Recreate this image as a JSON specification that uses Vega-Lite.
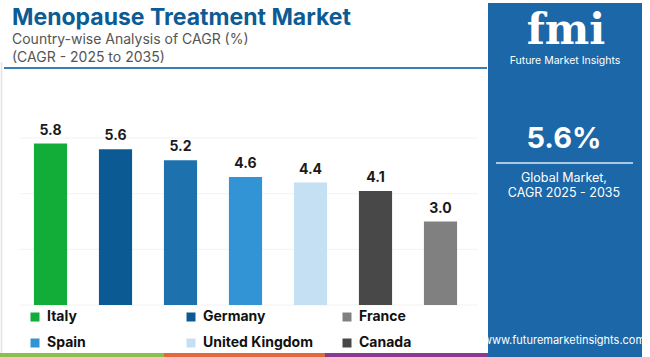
{
  "$schema": "https://vega.github.io/schema/vega-lite/v6.json",
  "width": 650,
  "height": 357,
  "autosize": {"type": "none"},
  "padding": 0,
  "background": "white",
  "config": {"view": {"stroke": null}, "font": "Inter"},
  "datasets": {
    "bars": [
      {"country": "Italy", "cagr": 5.8},
      {"country": "Germany", "cagr": 5.6},
      {"country": "United States", "cagr": 5.2},
      {"country": "Spain", "cagr": 4.6},
      {"country": "United Kingdom", "cagr": 4.4},
      {"country": "Canada", "cagr": 4.1},
      {"country": "France", "cagr": 3.0}
    ],
    "grid": [{"g": 0}, {"g": 2}, {"g": 4}, {"g": 6}],
    "one": [{"k": 1}]
  },
  "layer": [
    {
      "data": {"name": "one"},
      "mark": {"type": "rect", "fill": "#1b67a8"},
      "encoding": {"x": {"value": 488}, "x2": {"value": 642}, "y": {"value": 3}, "y2": {"value": 357}}
    },
    {
      "data": {"name": "one"},
      "mark": {"type": "rule", "stroke": "#e3e3e3", "strokeWidth": 1.5},
      "encoding": {"x": {"value": 1.5}, "y": {"value": 62}, "y2": {"value": 357}}
    },
    {
      "data": {"name": "one"},
      "mark": {"type": "rule", "stroke": "#3a7fb2", "strokeWidth": 2},
      "encoding": {"x": {"value": 4}, "x2": {"value": 487}, "y": {"value": 68}}
    },
    {
      "data": {"name": "one"},
      "mark": {"type": "rect", "fill": "#8cc04a"},
      "encoding": {"x": {"value": 0}, "x2": {"value": 164}, "y": {"value": 353}, "y2": {"value": 357}}
    },
    {
      "data": {"name": "one"},
      "mark": {"type": "rect", "fill": "#e5683c"},
      "encoding": {"x": {"value": 164}, "x2": {"value": 325}, "y": {"value": 353}, "y2": {"value": 357}}
    },
    {
      "data": {"name": "one"},
      "mark": {"type": "rect", "fill": "#8a3a90"},
      "encoding": {"x": {"value": 325}, "x2": {"value": 488}, "y": {"value": 353}, "y2": {"value": 357}}
    },
    {
      "data": {"name": "grid"},
      "mark": {"type": "rule", "stroke": "#f2f2f2", "strokeWidth": 1},
      "encoding": {
        "y": {"field": "g", "type": "quantitative", "scale": {"domain": [0, 6], "range": [305, 138]}, "axis": null},
        "x": {"value": 20},
        "x2": {"value": 478}
      }
    },
    {
      "data": {"name": "bars"},
      "mark": {"type": "bar"},
      "encoding": {
        "x": {"field": "country", "type": "nominal", "sort": null,
              "scale": {"range": [18, 473], "paddingInner": 0.49, "paddingOuter": 0.245}, "axis": null},
        "y": {"field": "cagr", "type": "quantitative"},
        "color": {
          "field": "country", "type": "nominal",
          "scale": {
            "domain": ["Italy", "Germany", "United States", "Spain", "United Kingdom", "Canada", "France"],
            "range": ["#12ad38", "#0b5a93", "#1d72ad", "#3294d5", "#c5e0f3", "#484848", "#808080"]
          },
          "legend": {
            "values": ["Italy", "Spain", "Germany", "United Kingdom", "France", "Canada"],
            "title": null,
            "orient": "none",
            "legendX": 28,
            "legendY": 310,
            "columns": 3,
            "gridAlign": "all",
            "columnPadding": 27,
            "rowPadding": 12,
            "padding": 0,
            "symbolType": "square",
            "symbolSize": 81,
            "symbolStrokeWidth": 0,
            "symbolOpacity": 1,
            "labelFont": "Inter",
            "labelFontSize": 14,
            "labelFontWeight": "bold",
            "labelColor": "#111111",
            "labelOffset": 5,
            "labelLimit": 200
          }
        }
      }
    },
    {
      "data": {"name": "bars"},
      "mark": {"type": "text", "baseline": "bottom", "dy": -6, "fontSize": 14, "fontWeight": "bold", "color": "#1a1a1a"},
      "encoding": {
        "x": {"field": "country", "type": "nominal", "sort": null},
        "y": {"field": "cagr", "type": "quantitative"},
        "text": {"field": "cagr", "type": "quantitative", "format": ".1f"}
      }
    },
    {
      "data": {"name": "one"},
      "mark": {"type": "text", "text": "Menopause Treatment Market", "align": "left", "baseline": "alphabetic", "fontSize": 23, "fontWeight": "bold", "color": "#0d5b94"},
      "encoding": {"x": {"value": 12}, "y": {"value": 25}}
    },
    {
      "data": {"name": "one"},
      "mark": {"type": "text", "text": "Country-wise Analysis of CAGR (%)", "align": "left", "baseline": "alphabetic", "fontSize": 14, "color": "#555555"},
      "encoding": {"x": {"value": 12}, "y": {"value": 44}}
    },
    {
      "data": {"name": "one"},
      "mark": {"type": "text", "text": "(CAGR - 2025 to 2035)", "align": "left", "baseline": "alphabetic", "fontSize": 14, "color": "#555555"},
      "encoding": {"x": {"value": 12}, "y": {"value": 62}}
    },
    {
      "data": {"name": "one"},
      "mark": {"type": "text", "text": "fmi", "align": "center", "baseline": "alphabetic", "fontSize": 42, "fontWeight": "bold", "font": "DejaVu Serif", "color": "white"},
      "encoding": {"x": {"value": 566}, "y": {"value": 44}}
    },
    {
      "data": {"name": "one"},
      "mark": {"type": "text", "text": "Future Market Insights", "align": "center", "baseline": "alphabetic", "fontSize": 10.5, "color": "white"},
      "encoding": {"x": {"value": 565}, "y": {"value": 64}}
    },
    {
      "data": {"name": "one"},
      "mark": {"type": "text", "text": "5.6%", "align": "center", "baseline": "alphabetic", "fontSize": 29, "fontWeight": "bold", "color": "white"},
      "encoding": {"x": {"value": 564}, "y": {"value": 148}}
    },
    {
      "data": {"name": "one"},
      "mark": {"type": "rule", "stroke": "#dbe8f4", "strokeWidth": 1.5},
      "encoding": {"x": {"value": 496}, "x2": {"value": 633}, "y": {"value": 163}}
    },
    {
      "data": {"name": "one"},
      "mark": {"type": "text", "text": "Global Market,", "align": "center", "baseline": "alphabetic", "fontSize": 12.5, "color": "white"},
      "encoding": {"x": {"value": 564}, "y": {"value": 182}}
    },
    {
      "data": {"name": "one"},
      "mark": {"type": "text", "text": "CAGR 2025 - 2035", "align": "center", "baseline": "alphabetic", "fontSize": 12.5, "color": "white"},
      "encoding": {"x": {"value": 564}, "y": {"value": 197}}
    },
    {
      "data": {"name": "one"},
      "mark": {"type": "text", "text": "www.futuremarketinsights.com", "align": "center", "baseline": "alphabetic", "fontSize": 11, "color": "white"},
      "encoding": {"x": {"value": 564}, "y": {"value": 344}}
    }
  ]
}
